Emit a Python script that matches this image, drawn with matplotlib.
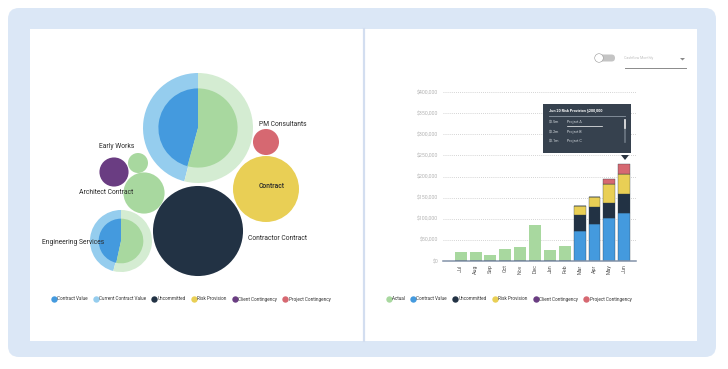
import matplotlib.pyplot as plt
import numpy as np
from matplotlib.patches import Circle, Wedge, FancyBboxPatch, Rectangle, Polygon
from matplotlib.lines import Line2D

plt.rcParams['font.family'] = ['Roboto', 'DejaVu Sans']

"""Data"""

# bubble chart (left card)
bubble_labels = ['', 'Contractor Contract', 'Contract', 'PM Consultants', 'Early Works', '',
                 'Architect Contract', 'Engineering Services']
bubble_values = [1000, 670, 360, 56, 70, 33, 140, 318]
bubble_kind = ['split', 'Uncommitted', 'Risk Provision', 'Project Contingency',
               'Client Contingency', 'Actual', 'Actual', 'split']
current_share = [0.46, 0, 0, 0, 0, 0, 0, 0.46]    # outer ring, current contract value
contract_share = [0.457, 0, 0, 0, 0, 0, 0, 0.466]  # inner disc, contract value

# cashflow bars (right card)
months = ['Jul', 'Aug', 'Sep', 'Oct', 'Nov', 'Dec', 'Jan', 'Feb', 'Mar', 'Apr', 'May', 'Jun']
actual = [20500, 20500, 14200, 27600, 32400, 85200, 26000, 36300, 0, 0, 0, 0]
contract_value = [0, 0, 0, 0, 0, 0, 0, 0, 71800, 87600, 101000, 114400]
uncommitted = [0, 0, 0, 0, 0, 0, 0, 0, 36300, 41000, 37000, 45000]
risk_provision = [0, 0, 0, 0, 0, 0, 0, 0, 22000, 22900, 44200, 47300]
client_contingency = [0] * 12
project_contingency = [0, 0, 0, 0, 0, 0, 0, 0, 0, 0, 12000, 23000]

tooltip_title = 'Jun 20 Risk Provision $200,000'
tooltip_amounts = ['$0.5m', '$0.2m', '$0.1m']
tooltip_projects = ['Project A', 'Project B', 'Project C']

legend_left = ['Contract Value', 'Current Contract Value', 'Uncommitted', 'Risk Provision',
               'Client Contingency', 'Project Contingency']
legend_right = ['Actual', 'Contract Value', 'Uncommitted', 'Risk Provision',
                'Client Contingency', 'Project Contingency']

colors = {
    'Actual': '#a8d89f',
    'Actual light': '#d4ecd2',
    'Contract Value': '#449ade',
    'Current Contract Value': '#95cdee',
    'Uncommitted': '#223244',
    'Risk Provision': '#e9cf55',
    'Client Contingency': '#6a3d82',
    'Project Contingency': '#d66871',
}

"""Figure + background cards (pixel coordinates)"""

W, H = 728, 369
fig = plt.figure(figsize=(W / 100, H / 100), dpi=100)
bg = fig.add_axes([0, 0, 1, 1], zorder=0)
bg.set_xlim(0, W)
bg.set_ylim(H, 0)
bg.axis('off')

bg.add_patch(FancyBboxPatch((8, 8), 708, 349, boxstyle='round,pad=0,rounding_size=11',
                            fc='#dbe7f6', ec='none'))
bg.add_patch(Rectangle((30, 29), 667, 312, fc='white', ec='none'))
bg.plot([363.5, 363.5], [29, 341], color='#d3def0', lw=1.6)

# bubbles
centres = [(198, 128), (198, 231), (266, 189), (266, 142), (114, 172), (138, 163), (144, 193), (121, 241)]
label_pos = [None, (277, 239), (272, 186), (283, 124), (117, 147), None, (106, 193), (73, 242)]
for i, v in enumerate(bubble_values):
    r = 55 * np.sqrt(v / 1000)
    cx, cy = centres[i]
    if bubble_kind[i] == 'split':
        f_out = current_share[i]
        f_in = contract_share[i]
        # y axis is inverted: screen-ccw from top maps to data angles below 270
        bg.add_patch(Wedge((cx, cy), r, 270 - f_out * 360, 270, fc=colors['Current Contract Value'], ec='none'))
        bg.add_patch(Wedge((cx, cy), r, 270, 270 + (1 - f_out) * 360, fc=colors['Actual light'], ec='none'))
        ri = r * 0.72
        bg.add_patch(Wedge((cx, cy), ri, 270 - f_in * 360, 270, fc=colors['Contract Value'], ec='none'))
        bg.add_patch(Wedge((cx, cy), ri, 270, 270 + (1 - f_in) * 360, fc=colors['Actual'], ec='none'))
    else:
        bg.add_patch(Circle((cx, cy), r, fc=colors[bubble_kind[i]], ec='none'))
    if bubble_labels[i]:
        lx, ly = label_pos[i]
        bg.text(lx, ly, bubble_labels[i], fontsize=4.9, color='#2a2a2a', ha='center', va='center',
                fontweight='medium' if bubble_labels[i] == 'Contract' else 'normal')

# toggle + dropdown
bg.add_patch(FancyBboxPatch((595, 54.5), 20, 7, boxstyle='round,pad=0,rounding_size=3.5',
                            fc='#c4c4c4', ec='none'))
bg.add_patch(Circle((599, 58), 4.3, fc='white', ec='#9a9a9a', lw=0.4))
bg.text(624, 58, 'Cashflow Monthly', fontsize=2.6, color='#c0c0c0', va='center')
bg.plot([625, 686], [68, 68], color='#8a8a8a', lw=0.7)
bg.add_patch(Polygon([[680, 58], [685, 58], [682.5, 60.5]], closed=True, fc='#8a8a8a', ec='none'))

# legends
def add_legend(labels, cx):
    handles = [Line2D([], [], ls='none', marker='o', markersize=4.6, markerfacecolor=colors[l],
                      markeredgecolor='none') for l in labels]
    fig.legend(handles, labels, ncol=6, loc='center', bbox_to_anchor=(cx / W, 1 - 299 / H),
               frameon=False, fontsize=3.3, handletextpad=0.2, columnspacing=1.3, handlelength=1.0,
               labelcolor='#333333')

add_legend(legend_left, 191)
add_legend(legend_right, 509)

"""Bar chart"""

ax = fig.add_axes([443 / W, 1 - 261 / H, (636 - 443) / W, (261 - 92) / H], zorder=1)
ax.patch.set_alpha(0)
x = np.arange(len(months))
bw = 0.8
ax.bar(x, actual, width=bw, color=colors['Actual'])
bottom = np.zeros(len(months))
for name, vals in [('Contract Value', contract_value), ('Uncommitted', uncommitted),
                   ('Risk Provision', risk_provision), ('Client Contingency', client_contingency),
                   ('Project Contingency', project_contingency)]:
    vals = np.array(vals, dtype=float)
    ax.bar(x, vals, width=bw, bottom=bottom, color=colors[name], edgecolor='#2c3a48', linewidth=0.25)
    bottom += vals

ax.set_xlim(-1.19, 11.79)
ax.set_ylim(0, 400000)
ax.set_yticks(np.arange(0, 400001, 50000))
ax.set_yticklabels(['$0' if v == 0 else '${:,}'.format(v) for v in range(0, 400001, 50000)])
ax.set_xticks(x)
ax.set_xticklabels(months, rotation=90)
ax.tick_params(axis='y', length=0, pad=3.5, labelsize=3.8, labelcolor='#b3b3b3')
ax.tick_params(axis='x', length=0, pad=2.5, labelsize=3.8, labelcolor='#555555')
ax.yaxis.grid(True, linestyle=(0, (1, 1.5)), color='#c6c6c6', linewidth=0.6)
ax.set_axisbelow(True)
for s in ['top', 'right', 'left']:
    ax.spines[s].set_visible(False)
ax.spines['bottom'].set_color('#8292a8')
ax.spines['bottom'].set_linewidth(1.1)

"""Tooltip overlay"""

top = fig.add_axes([0, 0, 1, 1], zorder=2)
top.set_xlim(0, W)
top.set_ylim(H, 0)
top.axis('off')
top.add_patch(Rectangle((543, 104), 88, 49, fc='#36414e', ec='none'))
top.text(549, 111, tooltip_title, fontsize=2.7, color='white', fontweight='bold', va='center')
top.plot([549, 625], [116, 116], color='#8d98a4', lw=0.6)
for i, (amt, prj) in enumerate(zip(tooltip_amounts, tooltip_projects)):
    yy = 122 + i * 9.5
    top.text(549, yy, amt, fontsize=2.6, color='#d8dde2', va='center')
    top.text(567, yy, prj, fontsize=2.6, color='#d8dde2', va='center')
top.plot([567, 602], [126, 126], color='white', lw=0.5)
top.plot([625, 625], [120, 142], color='#6d7884', lw=1.2)
top.plot([625, 625], [120, 128], color='#e6e6e6', lw=1.2)
top.add_patch(Polygon([[621, 155], [629, 155], [625, 160]], closed=True, fc='#2a3440', ec='none'))

fig.savefig('out.png', dpi=100)
